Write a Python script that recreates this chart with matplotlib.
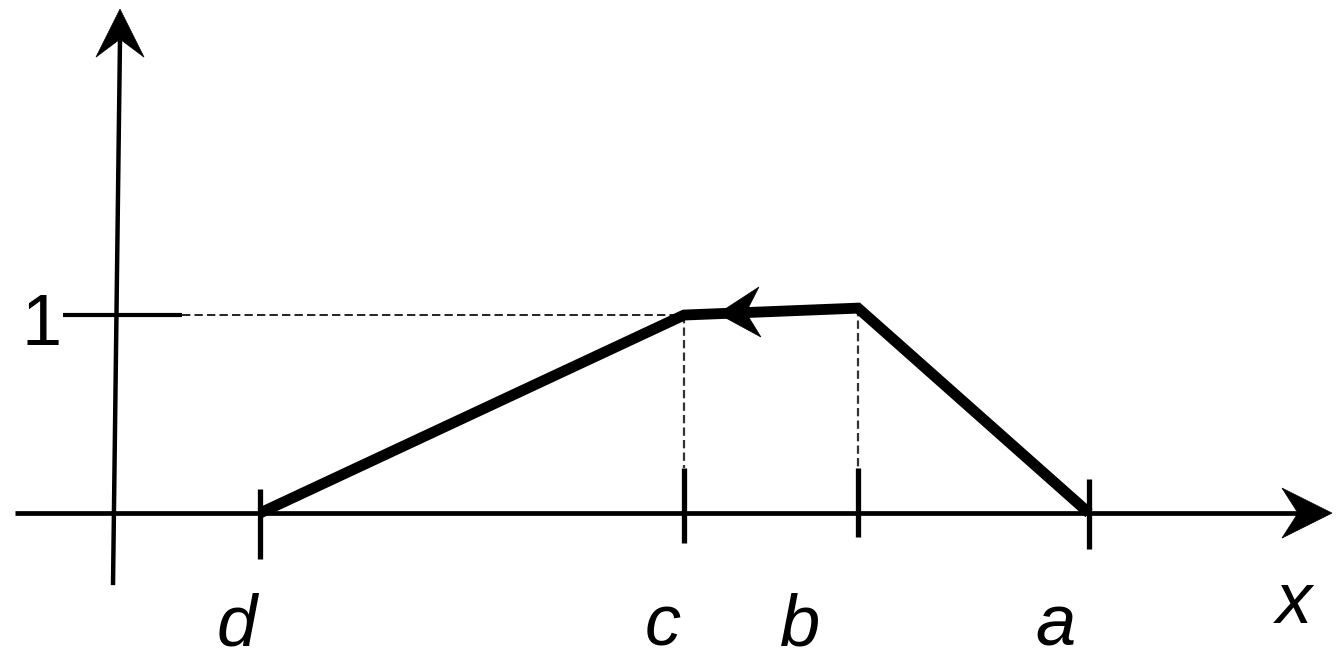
import numpy as np
import matplotlib
matplotlib.use("Agg")
import matplotlib.pyplot as plt
from matplotlib.patches import Polygon

plt.rcParams['lines.scale_dashes'] = False

# ---- data (x in horizontal drawing units, mu = membership grade) ----
point_labels = ['d', 'c', 'b', 'a']
point_x = [260, 684, 858, 1089]
point_mu = [0.0, 1.0, 1.035, 0.0]
tick_top = [0.12, 0.23, 0.23, 0.17]
tick_bottom = [-0.23, -0.15, -0.12, -0.18]
label_x = [237, 663, 800, 1055]
one_label = '1'
x_axis_label = 'x'

# axes geometry
x_axis_range = [15, 1332]
y_axis_x = [113, 120]          # bottom, top (slightly slanted, as in reference)
y_axis_range = [-0.364, 2.545]
one_tick_range = [63, 182]

fig = plt.figure(figsize=(13.43, 6.6), dpi=100)
ax = fig.add_axes([0, 0, 1, 1])
ax.set_xlim(0, 1343)
ax.set_ylim(-0.742, 2.591)
ax.axis('off')

K = 'black'


def stealth(tip, direction, length, half_w, notch):
    """draw a stealth-style arrowhead; tip in data coords, sizes in pixels"""
    tx, ty = ax.transData.transform(tip)
    d = np.asarray(direction, float)
    d = d / np.hypot(*d)
    n = np.array([-d[1], d[0]])
    t = np.array([tx, ty])
    pts = [t,
           t - d * length + n * half_w,
           t - d * notch,
           t - d * length - n * half_w]
    ax.add_patch(Polygon(pts, closed=True, transform=None, facecolor=K,
                         edgecolor=K, lw=0.5, zorder=6))


# x axis
ax.plot([x_axis_range[0], x_axis_range[1] - 30], [0, 0], color=K, lw=3.4,
        solid_capstyle='butt', zorder=2)
stealth((x_axis_range[1], 0), (1, 0), 50, 25, 34)

# y axis
ax.plot([y_axis_x[0], y_axis_x[1]], [y_axis_range[0], y_axis_range[1] - 0.15],
        color=K, lw=3.2, solid_capstyle='butt', zorder=2)
stealth((y_axis_x[1], y_axis_range[1]), (0, 1), 48, 24, 30)

# tick for "1"
ax.plot(one_tick_range, [1, 1], color=K, lw=3.0, solid_capstyle='butt', zorder=3)
ax.text(42, 1 - 30 / 198, one_label, fontsize=52, family='Liberation Sans',
        ha='center', va='baseline', color=K)

# dashed guides
ax.plot([one_tick_range[1], point_x[1]], [1, 1], color='#111111', lw=1.3,
        dashes=(6, 3), zorder=1)
for i in (1, 2):
    ax.plot([point_x[i], point_x[i]], [point_mu[i], tick_top[i]],
            color='#333333', lw=1.6, dashes=(6, 3), zorder=1)

# ticks on x axis
for xi, t0, t1 in zip(point_x, tick_bottom, tick_top):
    ax.plot([xi, xi], [t1, t0], color=K, lw=3.8, solid_capstyle='butt', zorder=4)

# trapezoid (thick)
ax.plot(point_x, point_mu, color=K, lw=7.8, solid_joinstyle='miter',
        solid_capstyle='butt', zorder=5)

# arrow along c-b segment pointing towards c
frac = 0.195
tip = (point_x[1] + frac * (point_x[2] - point_x[1]),
       point_mu[1] + frac * (point_mu[2] - point_mu[1]))
p1 = np.array(ax.transData.transform((point_x[1], point_mu[1])))
p2 = np.array(ax.transData.transform((point_x[2], point_mu[2])))
stealth(tip, p1 - p2, 42, 25, 28)

# point labels
for lab, lx in zip(point_labels, label_x):
    ax.text(lx, -132 / 198, lab, fontsize=52, family='Liberation Sans',
            style='italic', ha='center', va='baseline', color=K)
ax.text(1294, -110 / 198, x_axis_label, fontsize=52, family='Liberation Sans',
        style='italic', ha='center', va='baseline', color=K)

fig.savefig('out.png', dpi=100, facecolor='white')
